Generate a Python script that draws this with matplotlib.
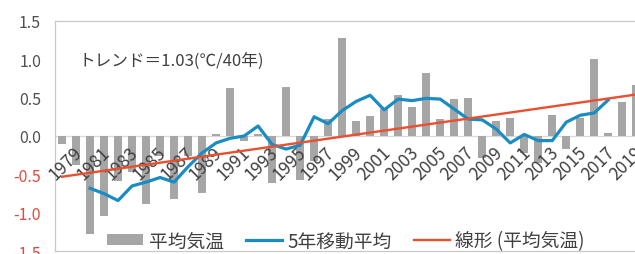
import matplotlib
matplotlib.use('Agg')
import matplotlib.pyplot as plt
import matplotlib.transforms as mtransforms
from matplotlib.patches import Patch
from matplotlib.lines import Line2D

plt.rcParams['font.family'] = ['Noto Sans CJK JP', 'DejaVu Sans']

# ---- data ----
years = list(range(1979, 2021))
annual_anomaly = [-0.11, -0.38, -1.27, -1.04, -0.59, -0.47, -0.89, -0.26, -0.82, -0.26,
                  -0.74, 0.02, 0.62, -0.06, 0.03, -0.61, 0.64, -0.57, -0.33, 0.22,
                  1.28, 0.20, 0.26, 0.35, 0.53, 0.38, 0.82, 0.22, 0.48, 0.49,
                  -0.28, 0.20, 0.24, -0.22, -0.35, 0.27, -0.17, 0.23, 1.00, 0.04,
                  0.44, 0.66]
ma_years = list(range(1981, 2019))
moving_avg = [-0.68, -0.75, -0.84, -0.65, -0.60, -0.54, -0.60, -0.40, -0.22, -0.09,
              -0.03, 0.00, 0.13, -0.11, -0.17, -0.12, 0.25, 0.16, 0.33, 0.45,
              0.53, 0.34, 0.48, 0.46, 0.49, 0.48, 0.35, 0.22, 0.21, 0.09,
              -0.09, 0.02, -0.06, -0.06, 0.18, 0.27, 0.30, 0.47]
trend_years = [1979, 2020]
trend_values = [-0.53, 0.54]
xtick_years = list(range(1979, 2020, 2))
yticks = [-1.5, -1.0, -0.5, 0.0, 0.5, 1.0, 1.5]
legend_labels = ['平均気温', '5年移動平均', '線形 (平均気温)']
annotation = 'トレンド＝1.03(℃/40年)'

bar_color = '#a6a6a6'
blue = '#1a8cc4'
red = '#e8502f'
frame = '#c9c9c9'

fig = plt.figure(figsize=(6.35, 2.55), dpi=100)
ax = fig.add_axes([55 / 635, 2.7 / 255, 588.3 / 635, 230.6 / 255])
ax.set_xlim(1978.5, 2020.5)
ax.set_ylim(-1.5, 1.5)
ax.set_axisbelow(False)

ax.bar(years, annual_anomaly, width=0.6, color=bar_color, zorder=2)
ax.plot(ma_years, moving_avg, color=blue, lw=2.3, zorder=3)
ax.plot(trend_years, trend_values, color=red, lw=1.7, zorder=4)

for s in ['top', 'left', 'right']:
    ax.spines[s].set_color(frame)
    ax.spines[s].set_linewidth(0.9)
ax.spines['bottom'].set_position(('data', 0))
ax.spines['bottom'].set_color('#d9d9d9')
ax.spines['bottom'].set_linewidth(0.9)
ax.spines['bottom'].set_zorder(1)
ax.axhline(-1.5, color=frame, lw=0.9, clip_on=False, zorder=1)

ax.tick_params(axis='both', length=0)
ax.set_yticks(yticks)
ax.set_yticklabels([f'{v:.1f}' for v in yticks], fontsize=11.5)
for lab, v in zip(ax.get_yticklabels(), yticks):
    lab.set_color('#e04b3c' if v < 0 else '#505050')
ax.tick_params(axis='y', pad=10)

ax.set_xticks(xtick_years)
ax.set_xticklabels([str(y) for y in xtick_years], fontsize=12.5, color='#404040',
                   rotation=45, ha='right', va='top', rotation_mode='anchor')
ax.tick_params(axis='x', pad=5)
off = mtransforms.ScaledTranslation(11 / 100, 0, fig.dpi_scale_trans)
for lab in ax.get_xticklabels():
    lab.set_transform(lab.get_transform() + off)

ax.text(1980.2, 0.98, annotation, fontsize=12, va='center', ha='left', color='#404040')

handles = [Patch(facecolor=bar_color, edgecolor='none'),
           Line2D([], [], color=blue, lw=2.3),
           Line2D([], [], color=red, lw=1.7)]
ax.legend(handles, legend_labels, loc='center', bbox_to_anchor=(0.495, 0.045),
          ncol=3, frameon=False, fontsize=13.5, handlelength=1.9, handleheight=0.55,
          handletextpad=0.3, columnspacing=1.2, labelcolor='#404040')

fig.savefig('out.png', dpi=100)
